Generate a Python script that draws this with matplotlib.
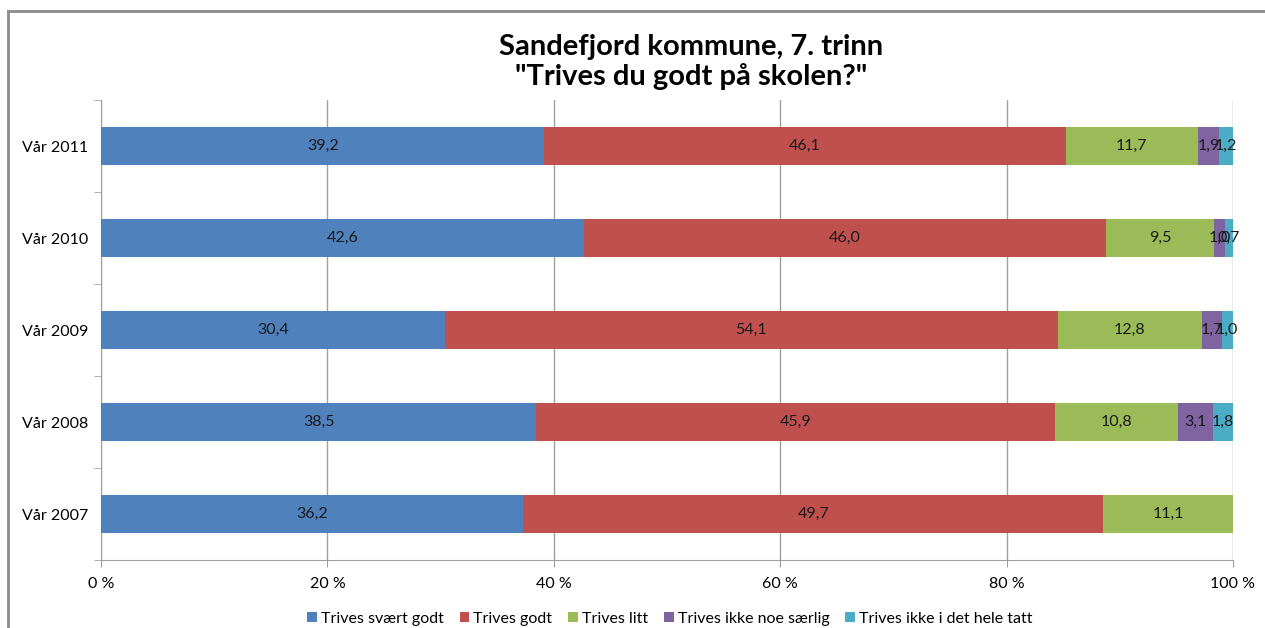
import numpy as np
import matplotlib.pyplot as plt
from matplotlib.lines import Line2D

plt.rcParams['font.family'] = ['Lato', 'DejaVu Sans']

years = ['Vår 2007', 'Vår 2008', 'Vår 2009', 'Vår 2010', 'Vår 2011']
series = ['Trives svært godt', 'Trives godt', 'Trives litt',
          'Trives ikke noe særlig', 'Trives ikke i det hele tatt']
svaert_godt = [36.2, 38.5, 30.4, 42.6, 39.2]
godt = [49.7, 45.9, 54.1, 46.0, 46.1]
litt = [11.1, 10.8, 12.8, 9.5, 11.7]
ikke_saerlig = [0.0, 3.1, 1.7, 1.0, 1.9]
ikke_i_det_hele = [0.0, 1.8, 1.0, 0.7, 1.2]
colors = ['#4F81BD', '#C0504D', '#9BBB59', '#8064A2', '#4BACC6']

data = np.array([svaert_godt, godt, litt, ikke_saerlig, ikke_i_det_hele])
# 100 % stacked: each year scaled to its own total
shares = data / data.sum(axis=0) * 100

fig = plt.figure(figsize=(12.65, 6.28), dpi=100)
ax = fig.add_axes([101 / 1265, 1 - 560 / 628, 1132 / 1265, 460 / 628])

fs = 11.5
y = np.arange(len(years))
left = np.zeros(len(years))
for i, name in enumerate(series):
    ax.barh(y, shares[i], left=left, height=0.41, color=colors[i],
            label=name, zorder=3)
    for j in range(len(years)):
        if data[i, j] > 0:
            ax.text(left[j] + shares[i, j] / 2, y[j],
                    f'{data[i, j]:.1f}'.replace('.', ','),
                    ha='center', va='center', fontsize=fs, color='#1a1a1a',
                    zorder=4)
    left += shares[i]

ax.set_xlim(0, 100)
ax.set_ylim(-0.5, len(years) - 0.5)
ax.set_xticks(np.arange(0, 101, 20))
ax.set_xticklabels([f'{v} %' for v in range(0, 101, 20)], fontsize=fs)
ax.set_yticks(y)
ax.set_yticklabels(years, fontsize=fs)
ax.set_yticks(np.arange(-0.5, len(years), 1), minor=True)
ax.tick_params(axis='y', which='major', length=0, pad=9)
ax.tick_params(axis='y', which='minor', length=5, color='#A0A0A0')
ax.tick_params(axis='x', length=5, color='#A0A0A0', pad=7)
ax.grid(axis='x', color='#A0A0A0', linewidth=1, zorder=0)
for s in ['top', 'right']:
    ax.spines[s].set_visible(False)
for s in ['left', 'bottom']:
    ax.spines[s].set_color('#A0A0A0')

fig.text(691 / 1265, 1 - 62 / 628,
         'Sandefjord kommune, 7. trinn\n"Trives du godt på skolen?"',
         ha='center', va='center', fontsize=21, fontweight='bold',
         linespacing=1.15)

ax.legend(loc='center', bbox_to_anchor=(670 / 1265, 1 - 619 / 628),
          bbox_transform=fig.transFigure, ncol=5, frameon=False,
          fontsize=fs, handlelength=0.6, handleheight=0.6,
          handletextpad=0.25, columnspacing=1.0)

# outer chart frame
fig.add_artist(Line2D([8 / 1265, 8 / 1265], [0, 1 - 11 / 628],
                      transform=fig.transFigure, color='#8C8C8C', lw=2))
fig.add_artist(Line2D([8 / 1265, 1], [1 - 11 / 628, 1 - 11 / 628],
                      transform=fig.transFigure, color='#8C8C8C', lw=2))

fig.savefig('out.png', dpi=100)
